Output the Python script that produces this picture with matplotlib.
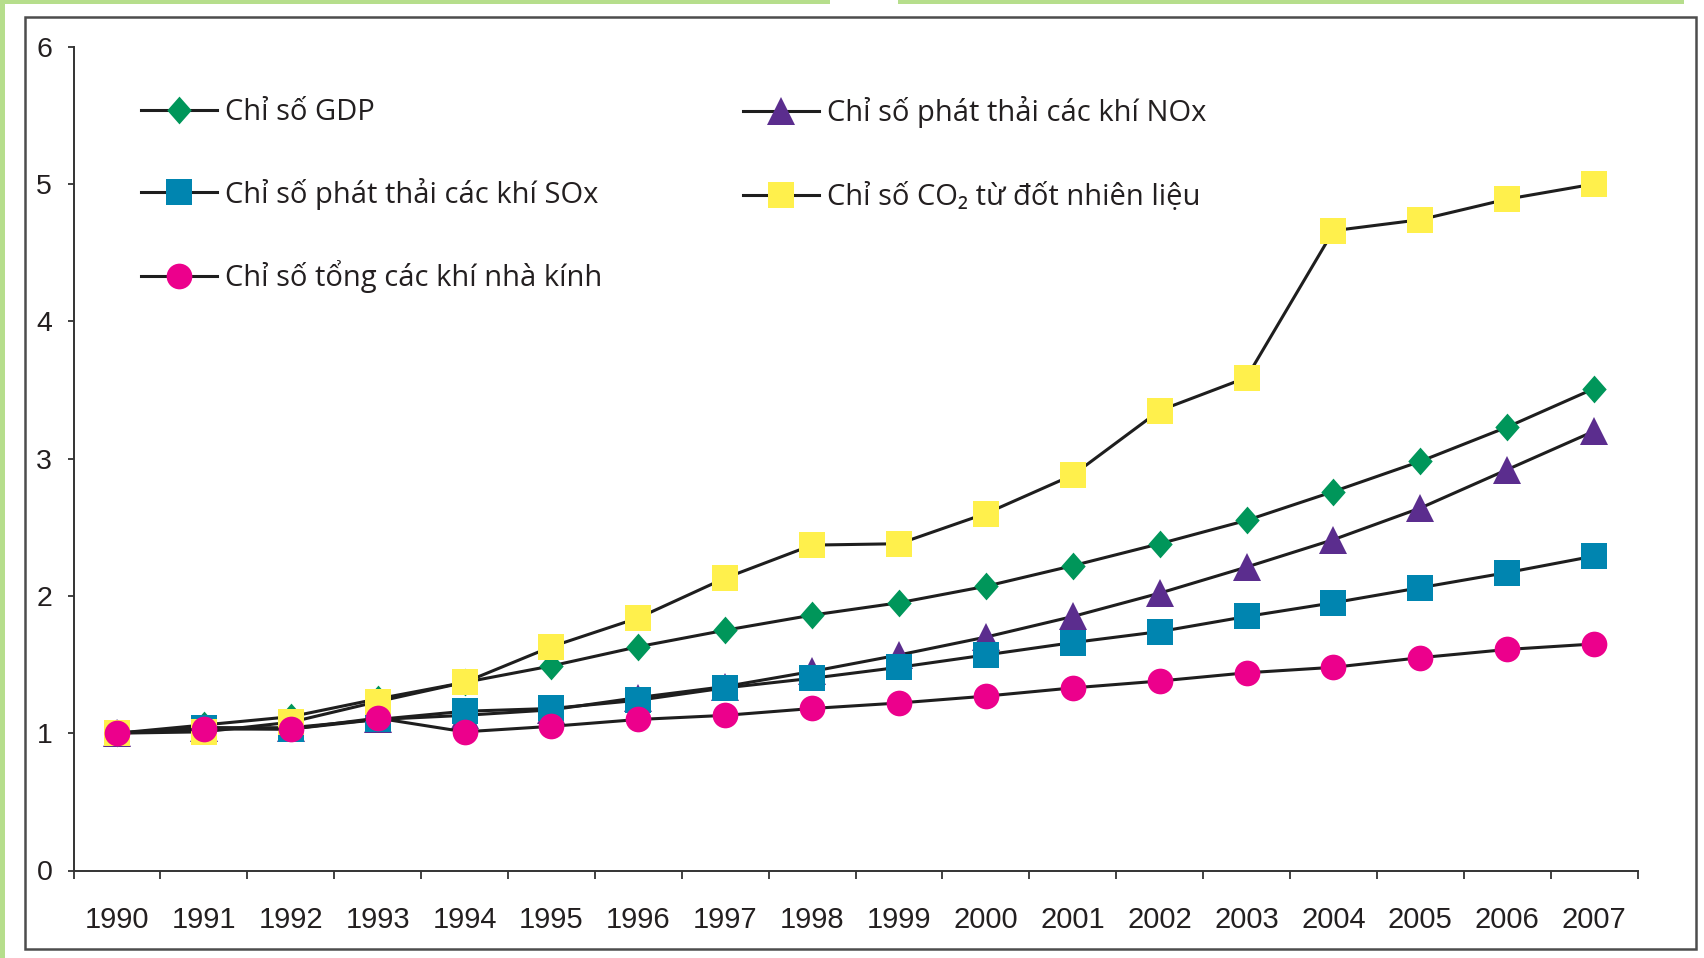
import numpy as np
import matplotlib
matplotlib.use('Agg')
import matplotlib.pyplot as plt
from matplotlib.lines import Line2D
from matplotlib.patches import Rectangle
from matplotlib.font_manager import FontProperties

# ---------------- data ----------------
years = ['1990', '1991', '1992', '1993', '1994', '1995', '1996', '1997', '1998',
         '1999', '2000', '2001', '2002', '2003', '2004', '2005', '2006', '2007']
gdp = [1.00, 1.06, 1.12, 1.25, 1.37, 1.49, 1.63, 1.75, 1.86, 1.95, 2.07, 2.22,
       2.38, 2.55, 2.76, 2.98, 3.23, 3.51]
nox = [1.00, 1.04, 1.04, 1.10, 1.13, 1.17, 1.26, 1.34, 1.45, 1.57, 1.70, 1.85,
       2.02, 2.21, 2.41, 2.64, 2.92, 3.20]
sox = [1.00, 1.04, 1.03, 1.10, 1.16, 1.18, 1.24, 1.33, 1.40, 1.48, 1.57, 1.66,
       1.74, 1.85, 1.95, 2.06, 2.17, 2.29]
co2 = [1.00, 1.01, 1.08, 1.23, 1.37, 1.63, 1.84, 2.13, 2.37, 2.38, 2.60, 2.88,
       3.35, 3.59, 4.66, 4.74, 4.89, 5.00]
ghg = [1.00, 1.03, 1.03, 1.11, 1.01, 1.05, 1.10, 1.13, 1.18, 1.22, 1.27, 1.33,
       1.38, 1.44, 1.48, 1.55, 1.61, 1.65]

lab_gdp = 'Chỉ số GDP'
lab_nox = 'Chỉ số phát thải các khí NOx'
lab_sox = 'Chỉ số phát thải các khí SOx'
lab_co2 = 'Chỉ số CO₂ từ đốt nhiên liệu'
lab_ghg = 'Chỉ số tổng các khí nhà kính'

# ---------------- styling ----------------
W, H = 1704, 958
fig = plt.figure(figsize=(W / 100, H / 100), dpi=100)


def fx(px):
    return px / W


def fy(py):
    return 1 - py / H


green = '#b6de8c'
fig.patches.append(Rectangle((0, 0), fx(5), 1, transform=fig.transFigure,
                             facecolor=green, edgecolor='none', zorder=0))
fig.patches.append(Rectangle((0, fy(4)), fx(830), 4 / H, transform=fig.transFigure,
                             facecolor=green, edgecolor='none', zorder=0))
fig.patches.append(Rectangle((fx(898), fy(4)), fx(1684 - 898), 4 / H,
                             transform=fig.transFigure, facecolor=green,
                             edgecolor='none', zorder=0))
fig.patches.append(Rectangle((fx(25), fy(949)), fx(1696 - 25), (949 - 17) / H,
                             transform=fig.transFigure, fill=False,
                             edgecolor='#4d4d4d', lw=1.8, zorder=1))

ax = fig.add_axes([fx(73.5), fy(870.5), fx(1637.6 - 73.5), (870.5 - 46.7) / H])

diamond = [(0, 1), (0.88, 0), (0, -1), (-0.88, 0), (0, 1)]
line_col = '#1e1e1e'
specs = [
    (gdp, '#00965a', diamond, 20, lab_gdp),
    (nox, '#5b2d8e', '^', 20, lab_nox),
    (sox, '#0085b0', 's', 18.5, lab_sox),
    (co2, '#fff04c', 's', 18.5, lab_co2),
    (ghg, '#ec008c', 'o', 18.5, lab_ghg),
]
x = np.arange(len(years))
handles = {}
for i, (vals, col, mk, ms, lab) in enumerate(specs):
    ax.plot(x, vals, color=line_col, lw=2.2, marker=mk, ms=ms, mfc=col,
            mec=col, mew=0, clip_on=False, zorder=3 + i)
    handles[lab] = Line2D([], [], color=line_col, lw=2.2, marker=mk, ms=ms,
                          mfc=col, mec=col, mew=0)

ax.set_xlim(-0.5, 17.5)
ax.set_ylim(0, 6)
ax.set_xticks(x)
ax.set_xticklabels(years)
ax.set_xticks(np.arange(-0.5, 18, 1), minor=True)
ax.set_yticks(range(0, 7))
ax.spines['top'].set_visible(False)
ax.spines['right'].set_visible(False)
for s in ('left', 'bottom'):
    ax.spines[s].set_color('#333333')
    ax.spines[s].set_linewidth(1.4)

tick_font = 'Liberation Sans'
ax.tick_params(axis='x', which='major', length=0, pad=25.5, labelsize=21,
               labelcolor='#231f20')
ax.tick_params(axis='x', which='minor', length=5.8, width=1.3, color='#333333')
ax.tick_params(axis='y', length=4.3, width=1.3, color='#333333', pad=11,
               labelsize=20.5, labelcolor='#231f20')
for t in ax.get_xticklabels() + ax.get_yticklabels():
    t.set_fontfamily(tick_font)

legfont = FontProperties(family=['Open Sans', 'DejaVu Sans'], size=21)
common = dict(loc='upper left', bbox_transform=fig.transFigure, frameon=False,
              borderpad=0, borderaxespad=0, handlelength=2.62, handletextpad=0.27,
              prop=legfont, numpoints=1, labelcolor='#231f20')
leg1 = ax.legend(handles=[handles[lab_gdp], handles[lab_sox], handles[lab_ghg]],
                 labels=[lab_gdp, lab_sox, lab_ghg], labelspacing=1.72,
                 bbox_to_anchor=(fx(141), fy(98.5)), **common)
ax.add_artist(leg1)
leg2 = ax.legend(handles=[handles[lab_nox], handles[lab_co2]],
                 labels=[lab_nox, lab_co2], labelspacing=1.88,
                 bbox_to_anchor=(fx(743), fy(96)), **common)

fig.savefig('out.png', dpi=100)
